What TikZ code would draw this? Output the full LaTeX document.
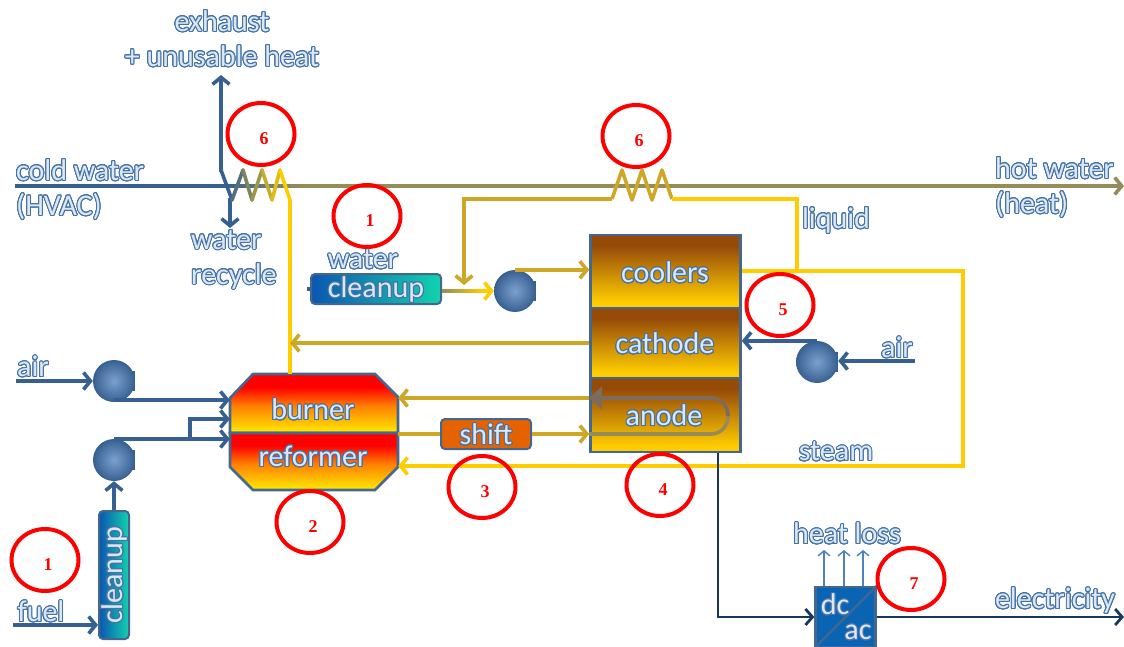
\documentclass[tikz,border=0pt]{standalone}
\usepackage{fontspec}
\setmainfont{Carlito}
\newfontfamily\numfont{Liberation Serif}
\usepackage[copies]{contour}
\usepackage{tikz}
\usetikzlibrary{arrows.meta,shapes.geometric}
\definecolor{pipeblue}{HTML}{376092}
\definecolor{pipegold}{HTML}{CDA725}
\definecolor{pipeyellow}{HTML}{FFCC00}
\definecolor{pipeolive}{HTML}{968C58}
\definecolor{pipegrey}{HTML}{7C6C5E}
\definecolor{pipenavy}{HTML}{17375E}
\definecolor{heatblue}{HTML}{4F81BD}
\definecolor{lbledge}{HTML}{4573A8}
\definecolor{lblfill}{HTML}{DCE8F6}
\definecolor{boxedge}{HTML}{44678F}
\definecolor{spotred}{HTML}{FF0000}
\definecolor{stackbrown}{HTML}{954A08}
\definecolor{cleana}{HTML}{0B56B0}
\definecolor{cleanb}{HTML}{0A8CD8}
\definecolor{cleanc}{HTML}{12D3AE}
\definecolor{invblue}{HTML}{0A64B4}
\definecolor{invteal}{HTML}{12A3AC}
\pgfdeclareverticalshading{burnershade}{100bp}{color(0bp)=(yellow);color(25bp)=(yellow!85!orange);
  color(48bp)=(orange);color(64bp)=(red);color(100bp)=(red)}
\pgfdeclareverticalshading{stackshade}{100bp}{color(0bp)=(pipeyellow);color(29bp)=(pipeyellow);
  color(68bp)=(stackbrown);color(100bp)=(stackbrown)}
\contourlength{1pt}
\contournumber{24}
\newcommand{\lbl}[1]{\contour{lbledge}{\textcolor{lblfill}{#1}}}
\newcommand{\fan}[3]{%
  \fill[pipeblue] (#2+12,#3-10) rectangle (#2+21,#3+10);
  \node[fanball] (#1) at (#2,#3) {};}
\newcommand{\spot}[4]{%
  \node[spotring] (#1) at (#2,#3) {};
  \node[spotnum] (#1n) at (#2+3,#3+5) {#4};}
\tikzset{
  pipe/.style={line width=3.6pt,-{Straight Barb[length=7pt,width=17pt]}},
  plainpipe/.style={line width=3.6pt},
  wirepipe/.style={line width=2.8pt,pipenavy,-{Straight Barb[length=7pt,width=16pt]}},
  fanball/.style={circle,minimum size=42pt,inner sep=0pt,inner color=heatblue!75!white,outer color=pipeblue},
  spotring/.style={ellipse,draw=spotred,line width=4pt,minimum width=67pt,minimum height=62pt,inner sep=0pt},
  spotnum/.style={text=spotred,font=\numfont\bfseries\fontsize{18}{18}\selectfont,inner sep=0pt},
  tag/.style={font=\fontsize{30}{35}\selectfont,inner sep=0pt},
  boxtag/.style={font=\fontsize{30}{30}\selectfont,inner sep=0pt},
  stackbox/.style={draw=boxedge,line width=2.6pt,shading=stackshade,minimum width=150pt,inner sep=0pt},
  burnshape/.style={draw=boxedge,line width=2.6pt,shading=burnershade,line join=miter},
  cleanbox/.style={draw=boxedge,line width=2pt,rounded corners=4pt,left color=cleana,middle color=cleanb,
    right color=cleanc,minimum height=30pt,inner sep=0pt},
}
\begin{document}
\begin{tikzpicture}[x=1pt,y=-1pt]
  \useasboundingbox (0,0) rectangle (1124,647);
  \clip (0,0) rectangle (1124,647);
  % reactors
  \draw[burnshape] (230,433) -- (230,398) -- (253,374) -- (375,374) -- (398,397) -- (398,433) -- cycle;
  \draw[burnshape] (230,433) -- (230,467) -- (253,490) -- (375,490) -- (398,467) -- (398,433) -- cycle;
  \node[minimum width=168pt,minimum height=59pt,inner sep=0pt] (burner) at (314,403.5) {};
  \node[minimum width=168pt,minimum height=57pt,inner sep=0pt] (reformer) at (314,461.5) {};
  \node[stackbox,minimum height=73pt] (coolers) at (665.5,271.5) {};
  \node[stackbox,minimum height=70pt] (cathode) at (665.5,343) {};
  \node[stackbox,minimum height=74pt] (anode) at (665.5,415) {};
  \node[cleanbox,minimum width=130pt] (wclean) at (376,289) {};
  \node[cleanbox,minimum width=128pt,rotate=90] (fclean) at (114,575) {};
  \node[draw=boxedge,line width=2pt,rounded corners=4pt,fill=orange!85!red!90!black,minimum width=90pt,minimum height=30pt,inner sep=0pt] (shift) at (486,434) {};
  \node[draw=boxedge,line width=2.4pt,minimum size=60pt,inner sep=0pt,left color=invblue,middle color=invteal,right color=invblue,shading angle=45] (dcac) at (845.5,617) {};
  \draw[boxedge,line width=2.4pt] (dcac.south west) -- (dcac.north east);
  \fan{fanair}{114}{381}
  \fan{fanfuel}{114}{460}
  \fan{fanwater}{515}{291}
  \fan{fancath}{817}{362}
  % free ends
  \coordinate (airin) at (16,381);
  \coordinate (fuelin) at (13,625);
  \coordinate (coldin) at (15,186);
  \coordinate (hotout) at (1124,186);
  \coordinate (exhtop) at (221,75);
  \coordinate (recyc) at (230,228);
  \coordinate (airright) at (915,361);
  \coordinate (elecout) at (1124,617);
  \coordinate (elecbend) at (718,617);
  \coordinate (steamtop) at (963,271);
  \coordinate (steambot) at (963,466);
  \coordinate (liqup) at (797,199);
  \coordinate (coilb) at (672,199);
  \coordinate (coila) at (612,199);
  \coordinate (liqleft) at (464,199);
  \coordinate (burnup) at (290,200);
  % water line
  \draw[pipe,pipeolive] (coldin) -- (hotout);
  \draw[plainpipe,pipeblue] (coldin) -- (226,186);
  \shade[left color=pipeblue,right color=pipeolive] (226,184.2) rectangle (300,187.8);
  % blue lines
  \draw[pipe,pipeblue] (airin) -- (fanair);
  \draw[pipe,pipeblue] (fuelin) -- (fclean.north |- fuelin);
  \draw[pipe,pipeblue] (fclean.east) -- (fanfuel.south);
  \draw[pipe,pipeblue] (fanair.south |- 0,400) -- (burner.west |- 0,400);
  \draw[pipe,pipeblue] (fanfuel.north |- 0,439) -- (burner.west |- 0,439);
  \draw[pipe,pipeblue] (190,439) |- (burner.west |- 0,419);
  \draw[pipe,pipeblue] (airright) -- (fancath.east |- airright);
  \draw[pipe,pipeblue] (fancath.north) -- (cathode.east |- fancath.north);
  \draw[pipe,pipeblue] (recyc |- 0,198) -- (recyc);
  \draw[pipe,pipeblue] (221,172) -- (exhtop);
  % coil at the exhaust
  \foreach \xa/\ya/\xb/\yb/\m in {221/170/232/200/0,232/200/243/170/15,243/170/252/200/35,252/200/262/170/50,
    262/170/272/200/70,272/200/280/170/85,280/170/290/200/100}{
    \draw[line width=3.6pt,line cap=round,pipeyellow!\m!pipeblue] (\xa,\ya) -- (\xb,\yb);}
  \draw[plainpipe,pipeyellow] (burner.north -| burnup) -- (burnup);
  % coil at the coolers
  \draw[plainpipe,pipegold,line join=round] (coila) -- (622,170) -- (632,200) -- (642,170) -- (652,200) -- (662,170) -- (coilb);
  \draw[pipe,pipegold] (coila) -- (liqleft) -- (liqleft |- 0,285);
  \draw[plainpipe,pipeyellow] (coilb) -- (liqup) -- (liqup |- steamtop);
  % gold lines
  \draw[pipe,pipeyellow] (wclean.east |- fanwater) -- (fanwater.west);
  \shade[left color=pipeolive,right color=pipeyellow] (wclean.east |- 0,289.2) rectangle (482,292.8);
  \draw[plainpipe,pipeblue] (wclean.west) ++(-3,0) -- (wclean.west);
  \draw[pipe,pipegold] (fanwater.north) -- (coolers.west |- fanwater.north);
  \draw[pipe,pipegold] (cathode.west) -- (burnup |- cathode.west);
  \draw[pipe,pipegold] (anode.west |- 0,398) -- (burner.east |- 0,398);
  \draw[plainpipe,pipegold] (reformer.north east |- shift.west) -- (shift.west);
  \draw[pipe,pipegold] (shift.east) -- (anode.west |- shift.east);
  \draw[plainpipe,pipeolive,rounded corners=17pt] (anode.west |- 0,434) -- (728,434) -- (728,416);
  \draw[line width=3.6pt,pipegrey,rounded corners=17pt,-{Triangle[length=13pt,width=23pt]}] (728,416) -- (728,398) -- (anode.west |- 0,398);
  \draw[pipe,pipeyellow] (coolers.east |- steamtop) -- (steamtop) -- (steambot) -- (reformer.east |- steambot);
  % electric lines
  \draw[wirepipe] (anode.south -| elecbend) -- (elecbend) -- (dcac.west);
  \draw[wirepipe] (dcac.east) -- (elecout);
  \foreach \x in {824,844,863}{
    \draw[heatblue,line width=1.4pt,-{Straight Barb[length=5pt,width=12pt]}] (\x,586) -- (\x,550);}
  % labels
  \node[tag,align=center] (exhaust) at (222,39) {\lbl{exhaust}\\\lbl{+ unusable heat}};
  \node[tag,align=left,anchor=west] (cold) at (16,190) {\lbl{cold water}\\\lbl{(HVAC)}};
  \node[tag,align=left,anchor=west] (hot) at (995,188) {\lbl{hot water}\\\lbl{(heat)}};
  \node[tag,align=left,anchor=west] (recycle) at (191,260) {\lbl{water}\\\lbl{recycle}};
  \node[tag] (waterlab) at (363,260) {\lbl{water}};
  \node[tag] (liquid) at (836,221) {\lbl{liquid}};
  \node[tag] (steam) at (836,452) {\lbl{steam}};
  \node[tag] (airl) at (33,367) {\lbl{air}};
  \node[tag] (airr) at (897,348) {\lbl{air}};
  \node[tag] (fuel) at (41,612) {\lbl{fuel}};
  \node[tag] (heatloss) at (847,534) {\lbl{heat loss}};
  \node[tag] (elec) at (1055,601) {\lbl{electricity}};
  \node[boxtag] (burnerlab) at (313,410) {\lbl{burner}};
  \node[boxtag] (reformerlab) at (313,457) {\lbl{reformer}};
  \node[boxtag] (shiftlab) at (486,435) {\lbl{shift}};
  \node[boxtag] (coolerslab) at (665,273) {\lbl{coolers}};
  \node[boxtag] (cathodelab) at (665,344) {\lbl{cathode}};
  \node[boxtag] (anodelab) at (664,416) {\lbl{anode}};
  \node[boxtag] (wcleanlab) at (376,290) {\lbl{cleanup}};
  \node[boxtag,rotate=90] (fcleanlab) at (115,575) {\lbl{cleanup}};
  \node[boxtag] (dclab) at (835,605) {\lbl{dc}};
  \node[boxtag] (aclab) at (858,633) {\lbl{ac}};
  % numbered rings
  \spot{ringa}{261}{134}{6}
  \spot{ringb}{636}{136}{6}
  \spot{ringc}{367}{216}{1}
  \spot{ringd}{45}{560}{1}
  \spot{ringe}{310}{522}{2}
  \spot{ringf}{482}{487}{3}
  \spot{ringg}{660}{485}{4}
  \spot{ringh}{780}{305}{5}
  \spot{ringi}{911}{579}{7}
\end{tikzpicture}
\end{document}
